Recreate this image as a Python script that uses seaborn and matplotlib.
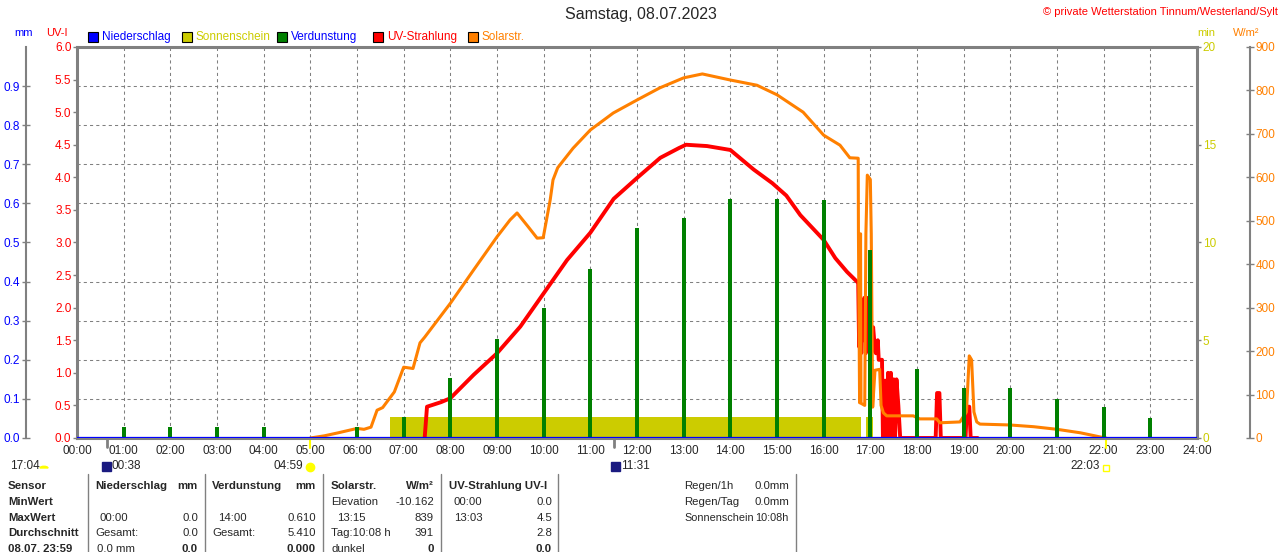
import seaborn as sns
import matplotlib.pyplot as plt
from matplotlib.patches import Rectangle, Wedge
from matplotlib.lines import Line2D

# ---- data ----
hours = list(range(25))
hour_labels = [f'{h:02d}:00' for h in hours]

# Solarstrahlung (W/m2)
solar_time = [5.00, 5.30, 5.60, 6.00, 6.15, 6.30, 6.43, 6.55, 6.80, 7.00, 7.20, 7.35, 7.45,
              8.00, 8.50, 9.00, 9.28, 9.43, 9.67, 9.86, 9.99, 10.14, 10.20, 10.30, 10.63,
              11.00, 11.49, 12.00, 12.49, 13.00, 13.40, 14.00, 14.57, 15.00, 15.56, 16.00,
              16.35, 16.56, 16.74, 16.745, 16.77, 16.79, 16.80, 16.88, 16.905, 16.935, 17.00,
              17.02, 17.05, 17.10, 17.20, 17.23, 17.28, 17.35, 17.92, 18.06, 18.42, 18.49,
              18.92, 19.06, 19.12, 19.17, 19.22, 19.28, 19.35, 19.99, 20.50, 21.00, 21.50,
              21.90, 22.05]
solar_wm2 = [0, 5, 12, 22, 20, 25, 64, 70, 106, 163, 160, 219, 232,
             310, 387, 463, 502, 518, 486, 460, 461, 548, 594, 622, 667,
             709, 748, 778, 806, 829, 838, 824, 812, 790, 750, 697,
             674, 645, 644, 472, 81, 470, 80, 75, 470, 605, 595,
             470, 71, 156, 158, 75, 58, 51, 51, 44, 44, 35,
             37, 60, 189, 180, 60, 37, 32, 30, 26, 20, 12,
             3, 0]

# UV-Strahlung (UV-I)
uv_time = [7.45, 7.50, 7.80, 8.00, 8.50, 9.00, 9.50, 10.00, 10.50, 11.00, 11.50, 12.00,
           12.50, 12.90, 13.05, 13.50, 14.00, 14.50, 14.90, 15.20, 15.50, 16.00, 16.25,
           16.50, 16.74, 16.76, 16.78, 16.80, 16.82, 16.85, 16.87, 16.90, 16.93, 16.96,
           16.99, 17.02, 17.06, 17.10, 17.12, 17.16, 17.18, 17.25, 17.27, 17.29, 17.31,
           17.33, 17.35, 17.38, 17.41, 17.44, 17.47, 17.50, 17.53, 17.56, 17.60, 17.64,
           18.40, 18.43, 18.48, 18.51, 19.04, 19.07, 19.12, 19.15, 19.30]
uv_index = [0.0, 0.48, 0.55, 0.61, 0.97, 1.30, 1.71, 2.22, 2.73, 3.15, 3.67, 3.99,
            4.30, 4.45, 4.50, 4.48, 4.42, 4.12, 3.91, 3.72, 3.42, 3.04, 2.76,
            2.55, 2.38, 1.40, 2.15, 1.30, 2.10, 1.50, 2.15, 1.30, 2.15, 1.40,
            2.10, 1.30, 1.70, 1.35, 1.30, 1.50, 1.20, 1.20, 0.0, 0.88, 0.0,
            0.88, 0.0, 1.00, 0.0, 1.00, 0.0, 0.90, 0.0, 0.90, 0.50, 0.0,
            0.0, 0.69, 0.69, 0.0, 0.0, 0.48, 0.48, 0.0, 0.0]

# Verdunstung (mm) hourly
verd_hour = [1, 2, 3, 4, 6, 7, 8, 9, 10, 11, 12, 13, 14, 15, 16, 17, 18, 19, 20, 21, 22, 23]
verd_mm = [0.028, 0.028, 0.028, 0.028, 0.028, 0.054, 0.153, 0.253, 0.332, 0.432, 0.537,
           0.563, 0.610, 0.610, 0.609, 0.480, 0.176, 0.128, 0.128, 0.100, 0.080, 0.050]

# Niederschlag (mm)
rain_time = [0, 24]
rain_mm = [0.0, 0.0]

# Sonnenschein (min)
sun_start = [6.71, 16.90]
sun_end = [16.80, 17.06]
sun_min = [1.05, 1.05]

# astro marks
moon_times = [0.633, 11.517]
sunrise_set = [4.983, 22.05]

uv_ticks = [0.0, 0.5, 1.0, 1.5, 2.0, 2.5, 3.0, 3.5, 4.0, 4.5, 5.0, 5.5, 6.0]
mm_ticks = [0.0, 0.1, 0.2, 0.3, 0.4, 0.5, 0.6, 0.7, 0.8, 0.9]
min_ticks = [0, 5, 10, 15, 20]
wm2_ticks = [0, 100, 200, 300, 400, 500, 600, 700, 800, 900]

# ---- style ----
sns.set_style('white')
plt.rcParams['font.family'] = ['Liberation Sans', 'DejaVu Sans']
plt.rcParams['font.size'] = 8

GRAY = '#808080'
RED = '#ff0000'
ORANGE = '#ff8000'
GREEN = '#008000'
YELLOW = '#cccc00'
BLUE = '#0000ff'

W, H = 1280, 552


def px(x, y):
    return x / W, 1 - y / H


fig = plt.figure(figsize=(12.8, 5.52), dpi=100)
ax_min = fig.add_axes([77 / W, 114 / H, 1120 / W, 391 / H])
ax_uv = ax_min.twinx()
ax_w = ax_min.twinx()
ax_mm = ax_min.twinx()

# sunshine blocks + grid (bottom layer)
for s, e, v in zip(sun_start, sun_end, sun_min):
    ax_min.fill_between([s, e], [v, v], 0, color=YELLOW, lw=0)
ax_min.set_ylim(0, 20)
ax_min.set_xlim(0, 24)
ax_min.set_xticks(hours)
ax_min.set_xticklabels(hour_labels)
ax_min.set_yticks(min_ticks)
ax_min.set_yticks([2, 4, 6, 8, 10, 12, 14, 16, 18], minor=True)
ax_min.grid(True, which='minor', axis='y', color=GRAY, lw=0.75, ls=(0, (3, 3)))
ax_min.grid(True, which='major', axis='x', color=GRAY, lw=0.75, ls=(0, (3, 3)))
ax_min.set_axisbelow(True)
ax_min.yaxis.tick_right()
ax_min.tick_params(axis='y', which='major', direction='out', length=3, width=1, color=GRAY,
                   labelcolor=YELLOW, pad=1, labelsize=8.5)
ax_min.tick_params(axis='y', which='minor', length=0)
ax_min.tick_params(axis='x', length=0, pad=5, labelsize=8.5)
for side in ['left', 'right', 'top', 'bottom']:
    ax_min.spines[side].set_color(GRAY)
    ax_min.spines[side].set_linewidth(2.2)

# UV line
sns.lineplot(x=uv_time, y=uv_index, ax=ax_uv, color=RED, lw=2.8, estimator=None, sort=False)
ax_uv.set_ylim(0, 6)
ax_uv.yaxis.tick_left()
ax_uv.set_yticks(uv_ticks)
ax_uv.set_yticklabels([f'{v:.1f}' for v in uv_ticks])
ax_uv.tick_params(axis='y', direction='out', length=3, width=1, color=GRAY, labelcolor=RED,
                  pad=1, labelsize=8.5)
for side in ax_uv.spines:
    ax_uv.spines[side].set_visible(False)

# solar line
sns.lineplot(x=solar_time, y=solar_wm2, ax=ax_w, color=ORANGE, lw=2.2, estimator=None, sort=False)
ax_w.set_ylim(0, 900)
ax_w.set_yticks(wm2_ticks)
ax_w.tick_params(axis='y', direction='inout', length=6, width=1, color=GRAY, labelcolor=ORANGE,
                 pad=1, labelsize=8.5)
for side in ax_w.spines:
    ax_w.spines[side].set_visible(False)
ax_w.spines['right'].set_visible(True)
ax_w.spines['right'].set_position(('outward', 38))
ax_w.spines['right'].set_color(GRAY)
ax_w.spines['right'].set_linewidth(1.5)

# evaporation bars + rain baseline
ax_mm.bar(verd_hour, verd_mm, width=0.08, color=GREEN, lw=0)
sns.lineplot(x=rain_time, y=rain_mm, ax=ax_mm, color=BLUE, lw=1.6, estimator=None)
ax_mm.set_ylim(0, 1.0)
ax_mm.yaxis.tick_left()
ax_mm.set_yticks(mm_ticks)
ax_mm.set_yticklabels([f'{v:.1f}' for v in mm_ticks])
ax_mm.tick_params(axis='y', direction='inout', length=6, width=1, color=GRAY, labelcolor=BLUE,
                  pad=1, labelsize=8.5)
for side in ax_mm.spines:
    ax_mm.spines[side].set_visible(False)
ax_mm.spines['left'].set_visible(True)
ax_mm.spines['left'].set_position(('outward', 37))
ax_mm.spines['left'].set_color(GRAY)
ax_mm.spines['left'].set_linewidth(1.5)

for a in [ax_uv, ax_w, ax_mm]:
    a.set_xlim(0, 24)
    a.set_xlabel('')
    a.set_ylabel('')
ax_min.set_xlabel('')
ax_min.set_ylabel('')

# moon / sun marks under the axis
for t in moon_times:
    ax_min.plot([t, t], [0, -0.45], color=GRAY, lw=2, clip_on=False)
for t in sunrise_set:
    ax_min.plot([t, t], [0, -0.5], color='#ffff00', lw=1.5, clip_on=False)

# ---- texts ----
fig.text(*px(641, 15), 'Samstag, 08.07.2023', ha='center', va='center', fontsize=11.5)
fig.text(*px(1278, 12), '\u00a9 private Wetterstation Tinnum/Westerland/Sylt', ha='right',
         va='center', color=RED, fontsize=8)
fig.text(*px(14, 33), 'mm', color=BLUE, va='center', fontsize=8)
fig.text(*px(46, 33), 'UV-I', color=RED, va='center', fontsize=8)
fig.text(*px(1197, 33), 'min', color=YELLOW, va='center', fontsize=8)
fig.text(*px(1233, 33), 'W/m\u00b2', color=ORANGE, va='center', fontsize=8)

legend_items = [('Niederschlag', BLUE, BLUE, 88), ('Sonnenschein', YELLOW, YELLOW, 182),
                ('Verdunstung', GREEN, BLUE, 277), ('UV-Strahlung', RED, RED, 373),
                ('Solarstr.', ORANGE, ORANGE, 468)]
for name, fc, tc, x in legend_items:
    fig.add_artist(Rectangle(px(x, 42), 10 / W, 10 / H, facecolor=fc, edgecolor='black', lw=0.8,
                             transform=fig.transFigure))
    fig.text(*px(x + 14, 37), name, color=tc, va='center', fontsize=8.5)

# astro row
AY = 466
fig.text(*px(10, AY), '17:04', va='center', fontsize=8.5)
fig.add_artist(Wedge(px(44, AY + 2), 4 / W, 0, 180, color='#ffff00', transform=fig.transFigure))
fig.add_artist(Rectangle(px(102, AY + 5), 9 / W, 9 / H, color='#1a1a80', transform=fig.transFigure))
fig.text(*px(112, AY), '00:38', va='center', fontsize=8.5)
fig.text(*px(303, AY), '04:59', ha='right', va='center', fontsize=8.5)
fig.add_artist(Line2D([310 / W], [1 - (AY + 1) / H], marker='o', ms=6, color='#ffff00',
                      transform=fig.transFigure))
fig.add_artist(Rectangle(px(611, AY + 5), 9 / W, 9 / H, color='#1a1a80', transform=fig.transFigure))
fig.text(*px(621, AY), '11:31', va='center', fontsize=8.5)
fig.text(*px(1100, AY), '22:03', ha='right', va='center', fontsize=8.5)
fig.add_artist(Rectangle(px(1103, AY + 5), 6 / W, 6 / H, facecolor='none', edgecolor='#ffff00',
                         lw=1, transform=fig.transFigure))

# summary table
for x in [88, 205, 323, 441, 558, 796]:
    fig.add_artist(Line2D([x / W, x / W], [1 - 474 / H, 0], color=GRAY, lw=1,
                          transform=fig.transFigure))

rows_y = [486, 502, 518, 533, 549]
row_names = ['Sensor', 'MinWert', 'MaxWert', 'Durchschnitt', '08.07. 23:59']
for y, name in zip(rows_y, row_names):
    fig.text(*px(8, y), name, va='center', fontsize=8.2, fontweight='bold')

cells = [
    # (x, row, text, ha, bold)
    (95, 0, 'Niederschlag', 'left', True), (198, 0, 'mm', 'right', True),
    (100, 2, '00:00', 'left', False), (198, 2, '0.0', 'right', False),
    (95, 3, 'Gesamt:', 'left', False), (198, 3, '0.0', 'right', False),
    (97, 4, '0.0 mm', 'left', False), (198, 4, '0.0', 'right', True),
    (212, 0, 'Verdunstung', 'left', True), (316, 0, 'mm', 'right', True),
    (218, 2, '14:00', 'left', False), (316, 2, '0.610', 'right', False),
    (212, 3, 'Gesamt:', 'left', False), (316, 3, '5.410', 'right', False),
    (316, 4, '0.000', 'right', True),
    (331, 0, 'Solarstr.', 'left', True), (434, 0, 'W/m\u00b2', 'right', True),
    (331, 1, 'Elevation', 'left', False), (434, 1, '-10.162', 'right', False),
    (337, 2, '13:15', 'left', False), (434, 2, '839', 'right', False),
    (331, 3, 'Tag:10:08 h', 'left', False), (434, 3, '391', 'right', False),
    (331, 4, 'dunkel', 'left', False), (434, 4, '0', 'right', True),
    (449, 0, 'UV-Strahlung UV-I', 'left', True),
    (454, 1, '00:00', 'left', False), (552, 1, '0.0', 'right', False),
    (454, 2, '13:03', 'left', False), (552, 2, '4.5', 'right', False),
    (552, 3, '2.8', 'right', False), (552, 4, '0.0', 'right', True),
    (684, 0, 'Regen/1h', 'left', False), (789, 0, '0.0mm', 'right', False),
    (684, 1, 'Regen/Tag', 'left', False), (789, 1, '0.0mm', 'right', False),
    (684, 2, 'Sonnenschein', 'left', False), (789, 2, '10:08h', 'right', False),
]
for x, r, txt, ha, bold in cells:
    fs = 8.2
    if txt in ('Sonnenschein', '10:08h'):
        fs = 7.8
    fig.text(*px(x, rows_y[r]), txt, ha=ha, va='center', fontsize=fs,
             fontweight='bold' if bold else 'normal')

fig.savefig('out.png', dpi=100, facecolor='white')
